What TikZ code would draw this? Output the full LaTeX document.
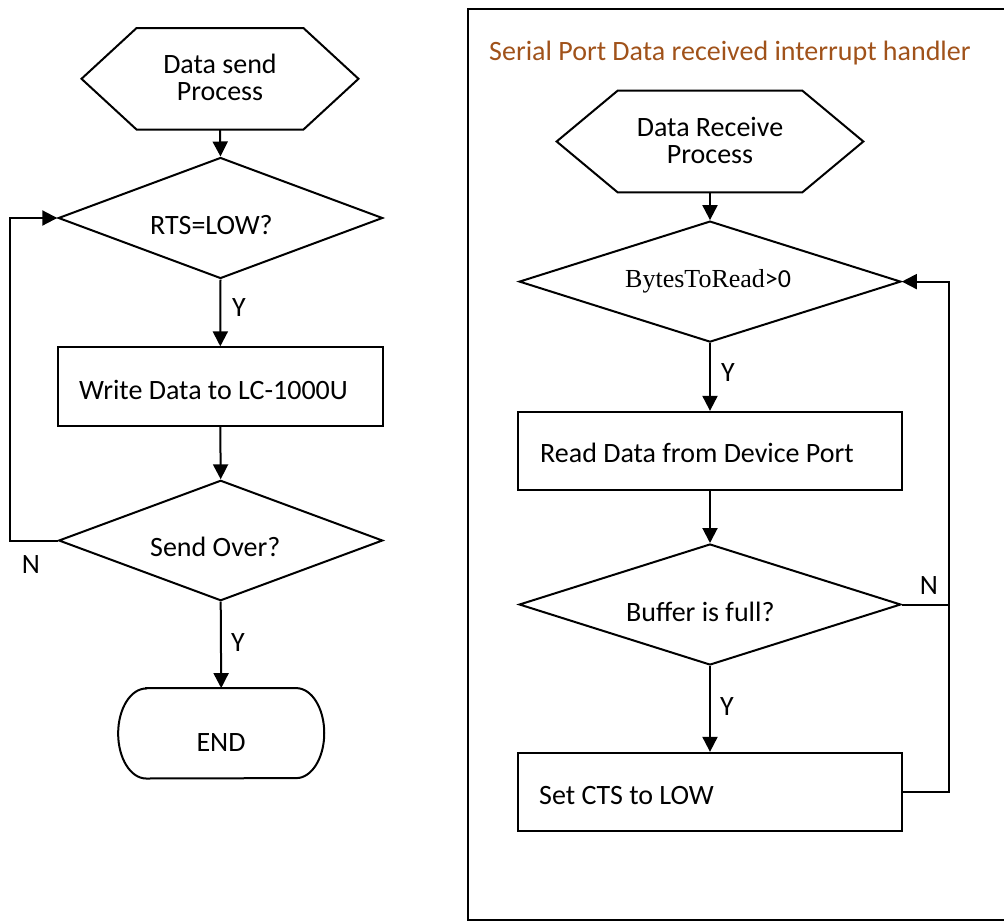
\documentclass[tikz,border=0pt]{standalone}
\usepackage{fontspec}
\setmainfont{Carlito}
\newfontfamily\serifface{Liberation Serif}
\usetikzlibrary{arrows.meta,shapes.geometric}
\definecolor{titlebrown}{RGB}{160,82,26}
\tikzset{
  frame/.style={draw=none, inner sep=0pt},
  outline/.style={line width=2pt, line join=miter},
  procbox/.style={draw, line width=2pt, inner sep=0pt},
  decision/.style={diamond, draw, line width=2pt, inner sep=0pt},
  txt/.style={inner sep=0pt, font=\fontsize{28}{27}\selectfont},
  ctxt/.style={txt, align=center, anchor=base},
  flag/.style={inner sep=0pt, font=\fontsize{28}{27}\selectfont},
  arr/.style={line width=2pt, -{Triangle[length=15pt,width=15pt]}},
  conn/.style={line width=2pt},
}
\begin{document}
\begin{tikzpicture}[x=1pt,y=-1pt]
\useasboundingbox (0,0) rectangle (1004,921);

% ---------- left flow ----------
\node[frame, minimum width=276.6pt, minimum height=101pt] (hexA) at (220,78.8) {};
\draw[outline] (hexA.west) -- ([xshift=55pt]hexA.north west) -- ([xshift=-55pt]hexA.north east)
  -- (hexA.east) -- ([xshift=-55pt]hexA.south east) -- ([xshift=55pt]hexA.south west) -- cycle;
\node[ctxt] (hexAt) at (220,100.7) {Data send\\Process};

\node[decision, minimum width=324.4pt, minimum height=121pt] (dA) at (220.5,218) {};
\node[txt, anchor=base west] (dAt) at (150,234) {RTS=LOW?};

\node[procbox, minimum width=325.3pt, minimum height=78.7pt] (rA) at (220.3,386.7) {};
\node[txt, anchor=base west] (rAt) at (79,399) {Write Data to LC-1000U};

\node[decision, minimum width=324pt, minimum height=120.4pt] (dB) at (220.7,540.5) {};
\node[txt, anchor=base west] (dBt) at (150,556.7) {Send Over?};

\node[frame, minimum width=205.7pt, minimum height=90pt] (endA) at (221.2,733.3) {};
\draw[outline] ([xshift=28pt]endA.north west) -- ([xshift=-28pt]endA.north east)
  arc[start angle=90, end angle=-90, x radius=28pt, y radius=45pt]
  -- ([xshift=28pt]endA.south west)
  arc[start angle=270, end angle=90, x radius=28pt, y radius=45pt] -- cycle;
\node[txt, anchor=base] (endAt) at (221,751) {END};

\draw[arr] (hexA.south) -- (dA.north);
\draw[arr] (dA.south) -- (rA.north);
\draw[arr] (rA.south) -- (dB.north);
\draw[arr] (dB.south) -- (endA.north);
\coordinate (loopA) at (10,540.5);
\draw[arr] (dB.west) -- (loopA) |- (dA.west);

\node[flag] (yA) at (239,308) {Y};
\node[flag] (yB) at (238,643) {Y};
\node[flag] (nA) at (31,565) {N};

% ---------- right frame ----------
\coordinate (frTR) at (1010,9);
\coordinate (frTL) at (468,9);
\coordinate (frBL) at (468,920);
\coordinate (frBR) at (1010,920);
\draw[line width=2.2pt] (frTR) -- (frTL) -- (frBL) -- (frBR);
\node[inner sep=0pt, anchor=base west, text=titlebrown, font=\fontsize{28}{27}\selectfont] (title) at (489,60) {Serial Port Data received interrupt handler};

% ---------- right flow ----------
\node[frame, minimum width=306.3pt, minimum height=101.3pt] (hexB) at (710,141.5) {};
\draw[outline] (hexB.west) -- ([xshift=61pt]hexB.north west) -- ([xshift=-61pt]hexB.north east)
  -- (hexB.east) -- ([xshift=-61pt]hexB.south east) -- ([xshift=61pt]hexB.south west) -- cycle;
\node[ctxt] (hexBt) at (710,163) {Data Receive\\Process};

\node[decision, minimum width=381.7pt, minimum height=121pt] (dC) at (710,281.6) {};
\node[inner sep=0pt, font=\fontsize{26}{27}\selectfont, anchor=base west] (dCt) at (625,287) {{\serifface BytesToRead}>0};

\node[procbox, minimum width=383.7pt, minimum height=78.3pt] (rB) at (710,451) {};
\node[txt, anchor=base west] (rBt) at (540,462.7) {Read Data from Device Port};

\node[decision, minimum width=381.7pt, minimum height=121pt] (dD) at (710,604.5) {};
\node[txt, anchor=base west] (dDt) at (626,621.7) {Buffer is full?};

\node[procbox, minimum width=383.7pt, minimum height=78.3pt] (rC) at (710,792) {};
\node[txt, anchor=base west] (rCt) at (539,804) {Set CTS to LOW};

\draw[arr] (hexB.south) -- (dC.north);
\draw[arr] (dC.south) -- (rB.north);
\draw[arr] (rB.south) -- (dD.north);
\draw[arr] (dD.south) -- (rC.north);
\coordinate (loopB) at (949.3,792);
\coordinate (joinB) at (949.3,604.5);
\draw[arr] (rC.east) -- (loopB) |- (dC.east);
\draw[conn] (dD.east) -- (joinB);

\node[flag] (yC) at (728,373) {Y};
\node[flag] (yD) at (727,707) {Y};
\node[flag] (nB) at (929,586) {N};
\end{tikzpicture}
\end{document}
